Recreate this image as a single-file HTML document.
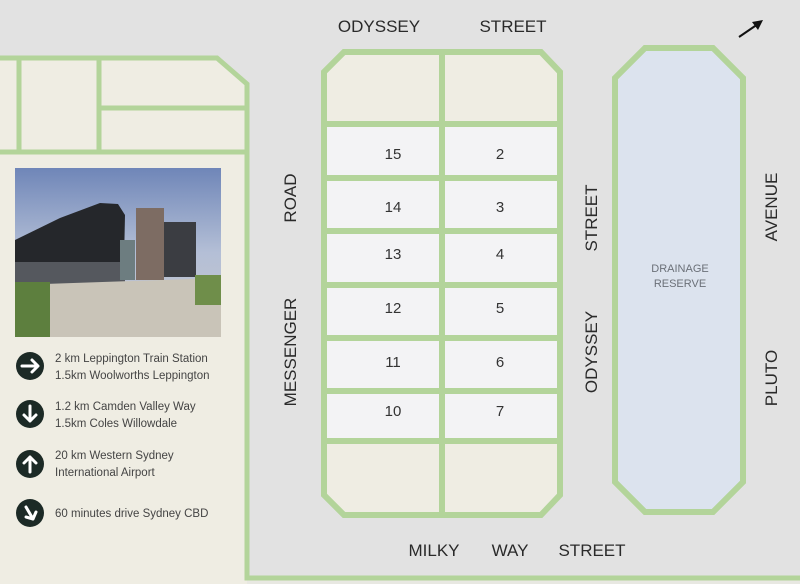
<!DOCTYPE html>
<html><head><meta charset="utf-8"><style>
html,body{margin:0;padding:0;width:800px;height:584px;overflow:hidden;background:#e2e2e2}
svg{display:block}
text{font-family:"Liberation Sans",sans-serif}
</style></head><body>
<svg width="800" height="584" viewBox="0 0 800 584" xmlns="http://www.w3.org/2000/svg">
<rect width="800" height="584" fill="#e2e2e2"/>
<polygon points="0,58 217,58 247,84 247,584 0,584" fill="#efede3"/>
<rect x="247" y="578" width="553" height="6" fill="#e8e8e2"/>
<g stroke="#b3d49a" stroke-width="5" fill="none">
<polyline points="0,58 217,58 247,84 247,578 800,578"/>
<line x1="0" y1="152" x2="247" y2="152"/>
<line x1="19" y1="58" x2="19" y2="152"/>
<line x1="99" y1="58" x2="99" y2="152"/>
<line x1="99" y1="108" x2="247" y2="108"/>
</g>
<defs>
<linearGradient id="sky" x1="0" y1="0" x2="0" y2="1">
<stop offset="0" stop-color="#6f86b8"/><stop offset="0.5" stop-color="#b4bfd6"/><stop offset="1" stop-color="#c8c8cc"/>
</linearGradient>
</defs>
<rect x="15" y="168" width="206" height="169" fill="url(#sky)"/>
<polygon points="15,240 60,218 100,203 118,204 125,215 124,262 15,264" fill="#25272b"/>
<rect x="15" y="262" width="110" height="24" fill="#55585e"/>
<rect x="120" y="240" width="15" height="40" fill="#6d7d80"/>
<rect x="136" y="208" width="28" height="72" fill="#7d6c63"/>
<rect x="164" y="222" width="32" height="55" fill="#3b3d42"/>
<polygon points="15,285 221,278 221,337 15,337" fill="#c9c4b8"/>
<rect x="15" y="282" width="35" height="55" fill="#5d7f3e"/>
<rect x="195" y="275" width="26" height="30" fill="#6f8e4a"/>
<polygon points="344,52 541,52 560,72 560,495 541,515 344,515 324,495 324,72" fill="#efede3"/>
<rect x="324" y="124" width="236" height="317" fill="#f3f3f5"/>
<g stroke="#b3d49a" stroke-width="6" fill="none">
<polygon points="344,52 541,52 560,72 560,495 541,515 344,515 324,495 324,72"/>
<line x1="442" y1="52" x2="442" y2="515"/>
<line x1="324" y1="124" x2="560" y2="124"/>
<line x1="324" y1="178" x2="560" y2="178"/>
<line x1="324" y1="231" x2="560" y2="231"/>
<line x1="324" y1="285" x2="560" y2="285"/>
<line x1="324" y1="338" x2="560" y2="338"/>
<line x1="324" y1="391" x2="560" y2="391"/>
<line x1="324" y1="441" x2="560" y2="441"/>
</g>
<polygon points="645,48 713,48 743,78 743,482 713,512 645,512 615,482 615,78" fill="#dce3ee" stroke="#b3d49a" stroke-width="6"/>
<g font-size="11" fill="#6b7078" text-anchor="middle">
<text x="680" y="272">DRAINAGE</text><text x="680" y="287">RESERVE</text>
</g>
<g font-size="15" fill="#333" text-anchor="middle">
<text x="393" y="159">15</text><text x="500" y="159">2</text>
<text x="393" y="212">14</text><text x="500" y="212">3</text>
<text x="393" y="259">13</text><text x="500" y="259">4</text>
<text x="393" y="313">12</text><text x="500" y="313">5</text>
<text x="393" y="367">11</text><text x="500" y="367">6</text>
<text x="393" y="416">10</text><text x="500" y="416">7</text>
</g>
<g font-size="17" fill="#2a2a2a" text-anchor="middle">
<text x="379" y="32">ODYSSEY</text><text x="513" y="32">STREET</text>
<text x="434" y="556">MILKY</text><text x="510" y="556">WAY</text><text x="592" y="556">STREET</text>
<text transform="translate(296,198) rotate(-90)">ROAD</text>
<text transform="translate(296,352) rotate(-90)">MESSENGER</text>
<text transform="translate(597,218) rotate(-90)">STREET</text>
<text transform="translate(597,352) rotate(-90)">ODYSSEY</text>
<text transform="translate(777,207) rotate(-90)">AVENUE</text>
<text transform="translate(777,378) rotate(-90)">PLUTO</text>
</g>
<line x1="739" y1="37" x2="758" y2="24" stroke="#111" stroke-width="2"/>
<polygon points="763,20 752,22 758,30" fill="#111"/>
<g fill="#1c2a26">
<circle cx="30" cy="366" r="14"/><circle cx="30" cy="414" r="14"/><circle cx="30" cy="464" r="14"/><circle cx="30" cy="513" r="14"/>
</g>
<g stroke="#fff" stroke-width="3" fill="none" stroke-linecap="round" stroke-linejoin="round">
<path d="M22 366 H37 M32 360 L38 366 L32 372"/>
<path d="M30 406 V421 M24 415 L30 421 L36 415"/>
<path d="M30 472 V457 M24 463 L30 457 L36 463"/>
<path d="M26 507 L33 519 M26 517 L33 519 L36 512"/>
</g>
<g font-size="11.5" fill="#444">
<text x="55" y="362">2 km Leppington Train Station</text>
<text x="55" y="379">1.5km Woolworths Leppington</text>
<text x="55" y="410">1.2 km Camden Valley Way</text>
<text x="55" y="427">1.5km Coles Willowdale</text>
<text x="55" y="459">20 km Western Sydney</text>
<text x="55" y="476">International Airport</text>
<text x="55" y="517">60 minutes drive Sydney CBD</text>
</g>
</svg>
</body></html>
